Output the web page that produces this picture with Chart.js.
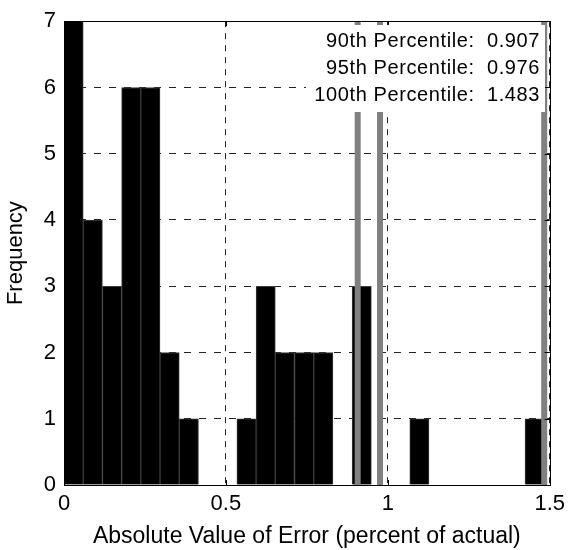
<!DOCTYPE html>
<html>
    <head>
        <title>Histogram - absolute error</title>
        <meta charset="UTF-8">
        <script src="https://cdn.jsdelivr.net/npm/chart.js@4.4.0/dist/chart.umd.min.js"></script>
        <style>
            body { margin: 0; background: #fff; }
            #chart { display: block; }
        </style>
    </head>
    <body>
        <canvas id="chart" width="571" height="550"></canvas>

        <script>
            // histogram bins (25 bins from 0 to 1.483)
            var binCenters = [0.0297, 0.0890, 0.1483, 0.2076, 0.2669, 0.3263, 0.3856, 0.4449, 0.5042,
                0.5636, 0.6229, 0.6822, 0.7415, 0.8009, 0.8602, 0.9195, 0.9788, 1.0381, 1.0975,
                1.1568, 1.2161, 1.2754, 1.3348, 1.3941, 1.4534];
            var counts = [7, 4, 3, 6, 6, 2, 1, 0, 0, 1, 3, 2, 2, 2, 0, 3, 0, 0, 1, 0, 0, 0, 0, 0, 1];

            var percentileNames = ['90th', '95th', '100th'];
            var percentileValues = [0.907, 0.976, 1.483];

            var xTicks = [0, 0.5, 1, 1.5];
            var yMax = 7;

            var barData = [];
            for (var i = 0; i < binCenters.length; i++) {
                barData.push({x: binCenters[i], y: counts[i]});
            }

            var datasets = [{
                    type: 'bar',
                    data: barData,
                    backgroundColor: '#000',
                    borderColor: '#3c3c3c',
                    borderWidth: 1,
                    barPercentage: 1,
                    categoryPercentage: 1,
                    order: 2
                }];

            percentileValues.forEach(function (v) {
                datasets.push({
                    type: 'line',
                    data: [{x: v, y: 0}, {x: v, y: yMax}],
                    borderColor: '#808080',
                    borderWidth: 6,
                    pointRadius: 0,
                    fill: false,
                    order: 1
                });
            });

            // inward ticks, box and the percentile text
            var matlabBox = {
                id: 'matlabBox',
                afterDatasetsDraw: function (chart) {
                    var ctx = chart.ctx;
                    var a = chart.chartArea;
                    var xs = chart.scales.x, ys = chart.scales.y;
                    ctx.save();
                    ctx.strokeStyle = '#000';
                    ctx.lineWidth = 1;
                    ctx.beginPath();
                    xTicks.forEach(function (t) {
                        var px = Math.round(xs.getPixelForValue(t)) + 0.5;
                        ctx.moveTo(px, a.bottom); ctx.lineTo(px, a.bottom - 5);
                        ctx.moveTo(px, a.top); ctx.lineTo(px, a.top + 5);
                    });
                    for (var k = 0; k <= yMax; k++) {
                        var py = Math.round(ys.getPixelForValue(k)) + 0.5;
                        ctx.moveTo(a.left, py); ctx.lineTo(a.left + 5, py);
                        ctx.moveTo(a.right, py); ctx.lineTo(a.right - 5, py);
                    }
                    ctx.stroke();
                    ctx.strokeRect(Math.round(a.left) + 0.5, Math.round(a.top) + 0.5,
                            Math.round(a.right - a.left), Math.round(a.bottom - a.top));

                    // text box
                    ctx.fillStyle = '#fff';
                    ctx.fillRect(306, 25, 239, 87);
                    ctx.fillStyle = '#000';
                    ctx.font = '20px "Liberation Sans", Arial, sans-serif';
                    ctx.textAlign = 'right';
                    ctx.textBaseline = 'alphabetic';
                    if ('letterSpacing' in ctx) ctx.letterSpacing = '0.6px';
                    for (var j = 0; j < percentileNames.length; j++) {
                        ctx.fillText(percentileNames[j] + ' Percentile:  ' + percentileValues[j].toFixed(3),
                                540, 47 + j * 27);
                    }
                    ctx.restore();
                }
            };

            var tickFont = {family: '"Liberation Sans", Arial, sans-serif', size: 22};

            new Chart(document.getElementById('chart'), {
                type: 'bar',
                data: {datasets: datasets},
                plugins: [matlabBox],
                options: {
                    responsive: false,
                    animation: false,
                    layout: {padding: {top: 17, right: 18, left: 0, bottom: 0}},
                    plugins: {
                        legend: {display: false},
                        tooltip: {enabled: false}
                    },
                    scales: {
                        x: {
                            type: 'linear',
                            offset: false,
                            min: xTicks[0],
                            max: xTicks[xTicks.length - 1],
                            afterFit: function (scale) { scale.height = 65; },
                            ticks: {stepSize: 0.5, autoSkip: false, color: '#000', font: tickFont, padding: 6, maxRotation: 0,
                                callback: function (v) { return String(v); }},
                            grid: {offset: false, color: '#222', lineWidth: 1, drawTicks: false},
                            border: {display: false, dash: [6, 6]},
                            title: {display: true, text: 'Absolute Value of Error (percent of actual)',
                                color: '#000', font: {family: tickFont.family, size: 23}, padding: {top: 2, bottom: 0}}
                        },
                        y: {
                            min: 0,
                            max: yMax,
                            afterFit: function (scale) { scale.width = 64; },
                            ticks: {stepSize: 1, color: '#000', font: tickFont, padding: 8},
                            grid: {color: '#222', lineWidth: 1, drawTicks: false},
                            border: {display: false, dash: [7, 8]},
                            title: {display: true, text: 'Frequency', color: '#000',
                                font: {family: tickFont.family, size: 22}, padding: {top: 3, bottom: 2}}
                        }
                    }
                }
            });
        </script>
    </body>
</html>
